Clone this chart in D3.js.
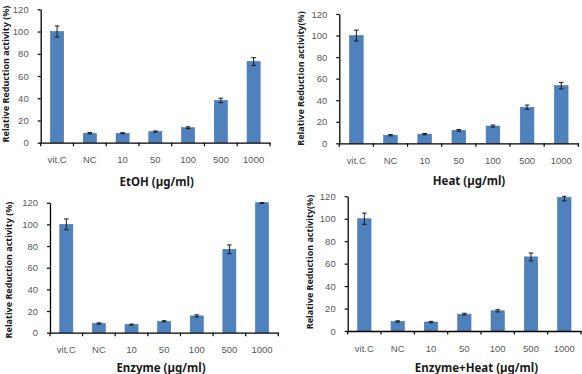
<!DOCTYPE html>
<html>
<head>
<meta charset="utf-8">
<script src="https://cdn.jsdelivr.net/npm/d3@7"></script>
<style>
  body { margin: 0; background: #fff; }
  svg { display: block; font-family: "Noto Sans", "Open Sans", sans-serif; }
  .tick text { fill: #595959; font-size: 9.5px; }
  .ttl { font-weight: bold; font-size: 11.5px; fill: #1a1a1a; }
  .ylab { font-weight: bold; font-size: 9px; fill: #1a1a1a; }
</style>
</head>
<body>
<svg class="chart"></svg>
<script>
// categories shared by all four panels
var categories = ["vit.C", "NC", "10", "50", "100", "500", "1000"];
var yTicks = [0, 20, 40, 60, 80, 100, 120];

// relative reduction activity (%)
var etohValues   = [100, 8.5, 8.5, 10, 13.5, 38, 73];
var etohErrors   = [5, 0.6, 0.5, 0.6, 0.8, 2, 3.5];
var heatValues   = [100, 7.5, 8.5, 12, 16, 33.5, 53.5];
var heatErrors   = [5, 0.6, 0.6, 0.8, 1, 2, 3];
var enzValues    = [100, 8.5, 7.5, 10.5, 15.5, 77, 120];
var enzErrors    = [5, 0.6, 0.5, 0.6, 1, 4, 0.5];
var enzHeatValues = [100, 8.5, 8, 15, 18, 66, 119];
var enzHeatErrors = [5, 0.6, 0.6, 0.8, 1, 3.5, 3];

var width = 582, height = 374;

var svg = d3.select(".chart")
  .attr("width", width)
  .attr("height", height);

// layout of each panel (plot box, title and y label anchor)
var panels = [
  {vals: etohValues, errs: etohErrors, title: "EtOH (\u00b5g/ml)", ylab: "Relative Reduction activity (%)",
   x0: 40.7, x1: 270, yb: 142.7, yt: 9.3, tx: 156.7, ty: 181.7, lx: 6, ly: 74},
  {vals: heatValues, errs: heatErrors, title: "Heat (\u00b5g/ml)", ylab: "Relative Reduction activity(%)",
   x0: 339.3, x1: 578.3, yb: 143.3, yt: 14, tx: 469, ty: 181, lx: 300.5, ly: 78.5},
  {vals: enzValues, errs: enzErrors, title: "Enzyme (\u00b5g/ml)", ylab: "Relative Reduction activity (%)",
   x0: 50, x1: 278.3, yb: 332.7, yt: 202.7, tx: 161, ty: 367.5, lx: 9, ly: 270},
  {vals: enzHeatValues, errs: enzHeatErrors, title: "Enzyme+Heat (\u00b5g/ml)", ylab: "Relative Reduction activity(%)",
   x0: 347.7, x1: 581, yb: 331, yt: 196.3, tx: 476.5, ty: 367.5, lx: 310, ly: 262}
];

panels.forEach(drawPanel);

function drawPanel(p){
  var data = categories.map(function(c, i){ return {cat: c, v: p.vals[i], e: p.errs[i]}; });

  var x = d3.scaleBand().domain(categories).range([p.x0, p.x1])
            .paddingInner(0.6).paddingOuter(0.3);
  var y = d3.scaleLinear().domain([0, 120]).range([p.yb, p.yt]);

  var g = svg.append("g");

  g.selectAll(".bar").data(data).enter()
   .append("rect")
   .attr("class", "bar")
   .attr("x", function(d){ return x(d.cat); })
   .attr("width", x.bandwidth())
   .attr("y", function(d){ return y(d.v); })
   .attr("height", function(d){ return y(0) - y(d.v); })
   .attr("fill", "#4f81bd")
   .attr("stroke", "#4574ad")
   .attr("stroke-width", 0.6);

  // error bars, clamped to the axis range
  var eb = g.selectAll(".err").data(data).enter().append("g")
   .attr("stroke", "#1a1a1a").attr("stroke-width", 1);
  function hi(d){ return y(Math.min(120, d.v + d.e)); }
  function lo(d){ return y(Math.max(0, d.v - d.e)); }
  function cx(d){ return x(d.cat) + x.bandwidth()/2; }
  eb.append("line")
    .attr("x1", cx).attr("x2", cx).attr("y1", hi).attr("y2", lo);
  eb.append("line")
    .attr("x1", function(d){ return cx(d) - 2.3; }).attr("x2", function(d){ return cx(d) + 2.3; })
    .attr("y1", hi).attr("y2", hi);
  eb.append("line")
    .attr("x1", function(d){ return cx(d) - 2.3; }).attr("x2", function(d){ return cx(d) + 2.3; })
    .attr("y1", lo).attr("y2", lo);

  // y axis
  var ya = g.append("g")
    .attr("transform", "translate(" + p.x0 + ",0)")
    .call(d3.axisLeft(y).tickValues(yTicks).tickSize(3).tickPadding(9).tickSizeOuter(0));
  ya.select(".domain").attr("stroke", "#000").attr("stroke-width", 1.3);
  ya.selectAll(".tick line").attr("stroke", "#000").attr("stroke-width", 1.2);
  ya.selectAll(".tick text").style("font-family", "inherit");

  // x axis: labels centred on bars, ticks between categories
  var xa = g.append("g")
    .attr("transform", "translate(0," + p.yb + ")")
    .call(d3.axisBottom(x).tickSize(0).tickPadding(14));
  xa.select(".domain").attr("stroke", "#000").attr("stroke-width", 1.3);
  xa.selectAll(".tick text").style("font-family", "inherit");

  var step = x.step();
  var bounds = d3.range(categories.length + 1).map(function(i){ return p.x0 + i*step; });
  g.selectAll(".xt").data(bounds).enter().append("line")
   .attr("x1", function(d){ return d; }).attr("x2", function(d){ return d; })
   .attr("y1", p.yb).attr("y2", p.yb + 3.5)
   .attr("stroke", "#000").attr("stroke-width", 1.2);

  g.append("text").attr("class", "ttl")
   .attr("x", p.tx).attr("y", p.ty).attr("dy", "0.35em")
   .attr("text-anchor", "middle")
   .text(p.title);

  g.append("text").attr("class", "ylab")
   .attr("transform", "translate(" + p.lx + "," + p.ly + ") rotate(-90)")
   .attr("dy", "0.35em")
   .attr("text-anchor", "middle")
   .text(p.ylab);
}
</script>
</body>
</html>
